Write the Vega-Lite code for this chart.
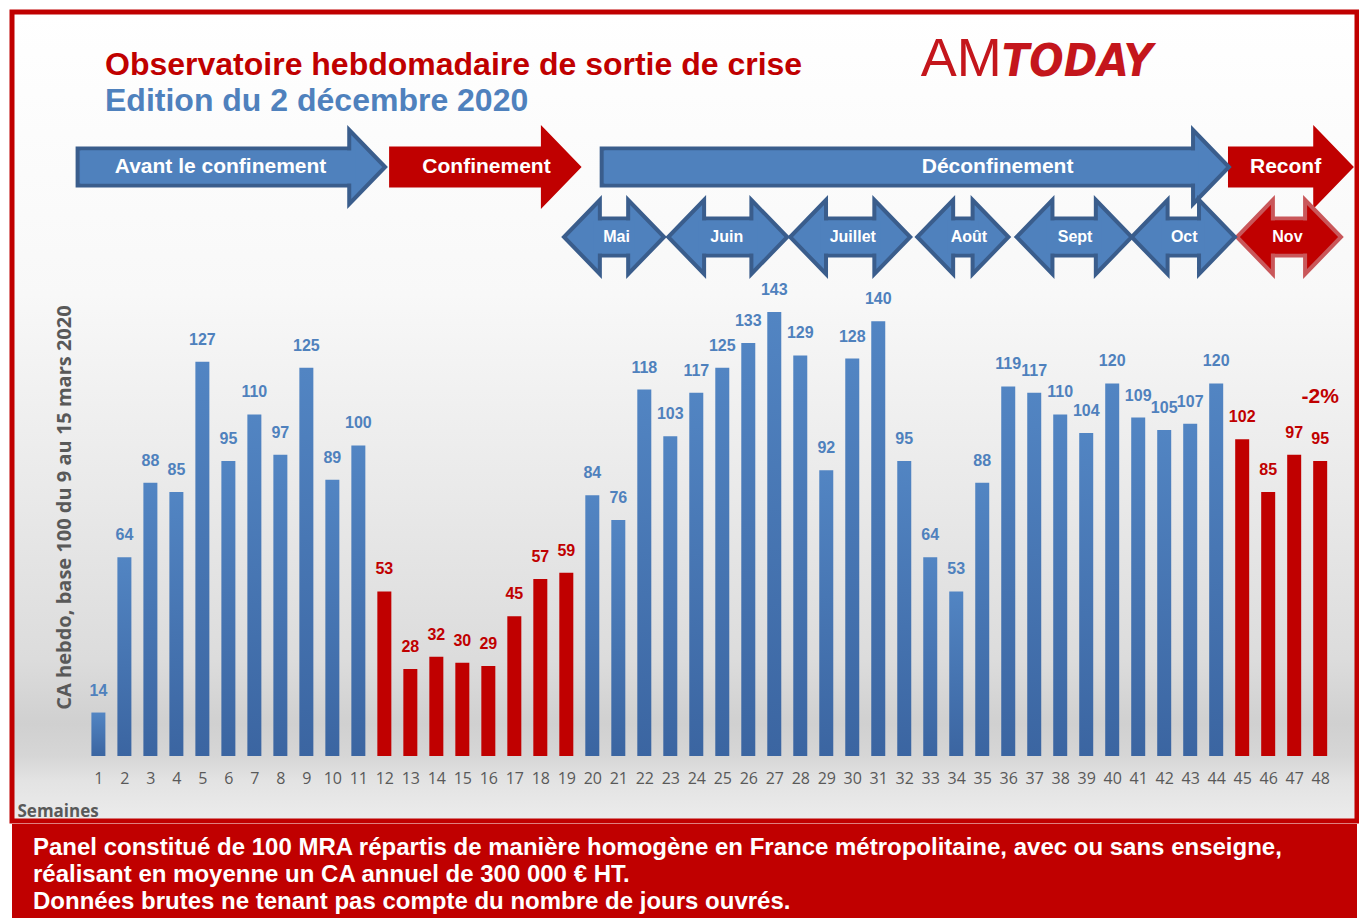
{
  "$schema": "https://vega.github.io/schema/vega-lite/v6.json",
  "background": "white",
  "padding": {"left": 9, "top": 9, "right": 0, "bottom": 0},
  "spacing": 0,
  "config": {
    "font": "Liberation Sans",
    "axis": {"labelOverlap": false},
    "axisX": {
      "labelFont": "Open Sans", "labelFontSize": 16, "labelColor": "#595959", "labelPadding": 2,
      "labelFlush": false, "labelOverlap": false, "labelSeparation": 0,
      "domain": false, "ticks": false, "grid": false,
      "titleFont": "Open Sans", "titleFontSize": 17, "titleFontWeight": "bold", "titleColor": "#595959"
    }
  },
  "datasets": {
    "semaines": [
      {"semaine": 1, "ca": 14, "statut": "Ouvert"},
      {"semaine": 2, "ca": 64, "statut": "Ouvert"},
      {"semaine": 3, "ca": 88, "statut": "Ouvert"},
      {"semaine": 4, "ca": 85, "statut": "Ouvert"},
      {"semaine": 5, "ca": 127, "statut": "Ouvert"},
      {"semaine": 6, "ca": 95, "statut": "Ouvert"},
      {"semaine": 7, "ca": 110, "statut": "Ouvert"},
      {"semaine": 8, "ca": 97, "statut": "Ouvert"},
      {"semaine": 9, "ca": 125, "statut": "Ouvert"},
      {"semaine": 10, "ca": 89, "statut": "Ouvert"},
      {"semaine": 11, "ca": 100, "statut": "Ouvert"},
      {"semaine": 12, "ca": 53, "statut": "Confiné"},
      {"semaine": 13, "ca": 28, "statut": "Confiné"},
      {"semaine": 14, "ca": 32, "statut": "Confiné"},
      {"semaine": 15, "ca": 30, "statut": "Confiné"},
      {"semaine": 16, "ca": 29, "statut": "Confiné"},
      {"semaine": 17, "ca": 45, "statut": "Confiné"},
      {"semaine": 18, "ca": 57, "statut": "Confiné"},
      {"semaine": 19, "ca": 59, "statut": "Confiné"},
      {"semaine": 20, "ca": 84, "statut": "Ouvert"},
      {"semaine": 21, "ca": 76, "statut": "Ouvert"},
      {"semaine": 22, "ca": 118, "statut": "Ouvert"},
      {"semaine": 23, "ca": 103, "statut": "Ouvert"},
      {"semaine": 24, "ca": 117, "statut": "Ouvert"},
      {"semaine": 25, "ca": 125, "statut": "Ouvert"},
      {"semaine": 26, "ca": 133, "statut": "Ouvert"},
      {"semaine": 27, "ca": 143, "statut": "Ouvert"},
      {"semaine": 28, "ca": 129, "statut": "Ouvert"},
      {"semaine": 29, "ca": 92, "statut": "Ouvert"},
      {"semaine": 30, "ca": 128, "statut": "Ouvert"},
      {"semaine": 31, "ca": 140, "statut": "Ouvert"},
      {"semaine": 32, "ca": 95, "statut": "Ouvert"},
      {"semaine": 33, "ca": 64, "statut": "Ouvert"},
      {"semaine": 34, "ca": 53, "statut": "Ouvert"},
      {"semaine": 35, "ca": 88, "statut": "Ouvert"},
      {"semaine": 36, "ca": 119, "statut": "Ouvert"},
      {"semaine": 37, "ca": 117, "statut": "Ouvert"},
      {"semaine": 38, "ca": 110, "statut": "Ouvert"},
      {"semaine": 39, "ca": 104, "statut": "Ouvert"},
      {"semaine": 40, "ca": 120, "statut": "Ouvert"},
      {"semaine": 41, "ca": 109, "statut": "Ouvert"},
      {"semaine": 42, "ca": 105, "statut": "Ouvert"},
      {"semaine": 43, "ca": 107, "statut": "Ouvert"},
      {"semaine": 44, "ca": 120, "statut": "Ouvert"},
      {"semaine": 45, "ca": 102, "statut": "Confiné"},
      {"semaine": 46, "ca": 85, "statut": "Confiné"},
      {"semaine": 47, "ca": 97, "statut": "Confiné"},
      {"semaine": 48, "ca": 95, "statut": "Confiné", "evolution": "-2%"}
    ],
    "fleches": [
      {"libelle": "Avant le confinement", "niveau": "Phase", "debut": 0.2, "fin": 12.03, "centre": 5.7, "statut": "Ouvert"},
      {"libelle": "Confinement", "niveau": "Phase", "debut": 12.26, "fin": 19.48, "centre": 15.93, "statut": "Confiné"},
      {"libelle": "Déconfinement", "niveau": "Phase", "debut": 20.36, "fin": 44.49, "centre": 35.59, "statut": "Ouvert"},
      {"libelle": "Reconf", "niveau": "Phase", "debut": 44.53, "fin": 49.19, "centre": 46.67, "statut": "Confiné"},
      {"libelle": "Mai", "niveau": "Mois", "debut": 18.91, "fin": 22.76, "centre": 20.93, "statut": "Ouvert"},
      {"libelle": "Juin", "niveau": "Mois", "debut": 22.92, "fin": 27.5, "centre": 25.17, "statut": "Ouvert"},
      {"libelle": "Juillet", "niveau": "Mois", "debut": 27.61, "fin": 32.23, "centre": 30.02, "statut": "Ouvert"},
      {"libelle": "Août", "niveau": "Mois", "debut": 32.5, "fin": 36.01, "centre": 34.49, "statut": "Ouvert"},
      {"libelle": "Sept", "niveau": "Mois", "debut": 36.32, "fin": 40.75, "centre": 38.57, "statut": "Ouvert"},
      {"libelle": "Oct", "niveau": "Mois", "debut": 40.75, "fin": 44.72, "centre": 42.77, "statut": "Ouvert"},
      {"libelle": "Nov", "niveau": "Mois", "debut": 44.8, "fin": 48.8, "centre": 46.74, "statut": "Confiné"}
    ],
    "logo": [
      {"partie": "AM"},
      {"partie": "TODAY"}
    ]
  },
  "vconcat": [
    {
      "width": 1345,
      "height": 809,
      "view": {
        "fill": {"gradient": "linear", "x1": 0, "y1": 0, "x2": 0, "y2": 1, "stops": [
          {"offset": 0, "color": "#ffffff"},
          {"offset": 0.35, "color": "#f8f8f8"},
          {"offset": 0.6, "color": "#e9e9e9"},
          {"offset": 0.8, "color": "#dcdcdc"},
          {"offset": 0.88, "color": "#d0d0d0"},
          {"offset": 0.92, "color": "#d6d6d6"},
          {"offset": 0.95, "color": "#e3e3e3"},
          {"offset": 1, "color": "#ececec"}
        ]},
        "stroke": "#c00000",
        "strokeWidth": 5
      },
      "title": {
        "text": "Observatoire hebdomadaire de sortie de crise",
        "subtitle": "Edition du 2 décembre 2020",
        "anchor": "start",
        "frame": "group",
        "orient": "top",
        "dx": 93,
        "offset": -106,
        "font": "Liberation Sans",
        "fontSize": 32,
        "fontWeight": "bold",
        "color": "#c00000",
        "subtitleFont": "Liberation Sans",
        "subtitleFontSize": 32,
        "subtitleFontWeight": "bold",
        "subtitleColor": "#4f81bd",
        "subtitlePadding": 4
      },
      "resolve": {"scale": {"y": "independent"}, "axis": {"y": "independent"}},
      "layer": [
        {
          "data": {"name": "semaines"},
          "encoding": {
            "x": {"field": "semaine", "type": "quantitative",
              "scale": {"domain": [-2.131, 49.224], "nice": false, "zero": false},
              "axis": {"values": [1,2,3,4,5,6,7,8,9,10,11,12,13,14,15,16,17,18,19,20,21,22,23,24,25,26,27,28,29,30,31,32,33,34,35,36,37,38,39,40,41,42,43,44,45,46,47,48], "format": "d", "orient": "bottom", "offset": -53, "labelOverlap": false, "labelFlush": false, "title": "Semaines", "titleAnchor": "start", "titleAlign": "left", "titleX": 5, "titleY": 43, "titleBaseline": "middle"}},
            "y": {"field": "ca", "type": "quantitative",
              "scale": {"domain": [-20.93, 239.6], "nice": false, "zero": false},
              "axis": {
                "title": "CA hebdo,  base 100 du 9 au 15 mars 2020",
                "orient": "left", "offset": -70,
                "domain": false, "ticks": false, "labels": false, "grid": false,
                "titleFont": "Open Sans", "titleFontSize": 20, "titleFontWeight": "bold", "titleColor": "#595959",
                "titlePadding": 8, "titleY": 495
              }}
          },
          "layer": [
            {
              "mark": {"type": "text", "dy": -22, "baseline": "middle", "font": "Liberation Sans", "fontSize": 16, "fontWeight": "bold"},
              "encoding": {
                "text": {"field": "ca", "type": "quantitative"},
                "color": {"condition": {"test": "datum.statut === 'Confiné'", "value": "#c00000"}, "value": "#4f81bd"}
              }
            },
            {
              "transform": [{"filter": "datum.statut === 'Ouvert'"}],
              "mark": {"type": "bar", "width": 14, "color": {"gradient": "linear", "x1": 0, "y1": 0, "x2": 0, "y2": 1, "stops": [{"offset": 0, "color": "#5285c3"}, {"offset": 1, "color": "#3b65a1"}]}},
              "encoding": {"y2": {"datum": 0}}
            },
            {
              "transform": [{"filter": "datum.statut === 'Confiné'"}],
              "mark": {"type": "bar", "width": 14, "color": "#c00000"},
              "encoding": {"y2": {"datum": 0}}
            },
            {
              "transform": [{"filter": "datum.evolution"}],
              "mark": {"type": "text", "dy": -64, "baseline": "middle", "font": "Liberation Sans", "fontSize": 21, "fontWeight": "bold", "color": "#c00000"},
              "encoding": {"text": {"field": "evolution"}}
            }
          ]
        },
        {
          "data": {"name": "fleches"},
          "encoding": {
            "x": {"field": "debut", "type": "quantitative", "scale": {"domain": [-2.131, 49.224], "nice": false, "zero": false},
              "axis": {"values": [1,2,3,4,5,6,7,8,9,10,11,12,13,14,15,16,17,18,19,20,21,22,23,24,25,26,27,28,29,30,31,32,33,34,35,36,37,38,39,40,41,42,43,44,45,46,47,48], "format": "d", "orient": "bottom", "offset": -53, "labelOverlap": false, "labelFlush": false, "title": "Semaines", "titleAnchor": "start", "titleAlign": "left", "titleX": 5, "titleY": 43, "titleBaseline": "middle"}},
            "y": {"field": "niveau", "type": "nominal", "axis": null, "scale": {"type": "band", "domain": ["Logo", "Phase", "Mois"], "range": [50, 260], "paddingInner": 0, "paddingOuter": 0}}
          },
          "layer": [
            {
              "transform": [{"filter": "datum.niveau === 'Phase'"}],
              "mark": {"type": "bar", "height": 37, "x2Offset": -20, "strokeWidth": 4},
              "encoding": {
                "x2": {"field": "fin"},
                "fill": {"condition": {"test": "datum.statut === 'Confiné'", "value": "#c00000"}, "value": "#4f81bd"},
                "stroke": {"condition": {"test": "datum.statut === 'Confiné'", "value": "#c00000"}, "value": "#3a5d8c"}
              }
            },
            {
              "transform": [{"filter": "datum.niveau === 'Phase'"}],
              "mark": {"type": "point", "shape": "M -0.97 -1 L 0 0 L -0.97 1 Z", "size": 5476, "filled": true, "opacity": 1, "strokeWidth": 4},
              "encoding": {
                "x": {"field": "fin", "type": "quantitative"},
                "fill": {"condition": {"test": "datum.statut === 'Confiné'", "value": "#c00000"}, "value": "#4f81bd"},
                "stroke": {"condition": {"test": "datum.statut === 'Confiné'", "value": "#c00000"}, "value": "#3a5d8c"}
              }
            },
            {
              "transform": [{"filter": "datum.niveau === 'Phase'"}],
              "mark": {"type": "bar", "height": 33, "xOffset": 3, "x2Offset": -30, "strokeWidth": 0},
              "encoding": {
                "x2": {"field": "fin"},
                "fill": {"condition": {"test": "datum.statut === 'Confiné'", "value": "#c00000"}, "value": "#4f81bd"}
              }
            },
            {
              "transform": [{"filter": "datum.niveau === 'Phase'"}],
              "mark": {"type": "text", "font": "Liberation Sans", "fontSize": 21, "fontWeight": "bold", "color": "white", "baseline": "middle"},
              "encoding": {
                "x": {"field": "centre", "type": "quantitative"},
                "text": {"field": "libelle"}
              }
            },
            {
              "transform": [{"filter": "datum.niveau === 'Mois'"}],
              "mark": {"type": "bar", "height": 37, "xOffset": 20, "x2Offset": -20, "strokeWidth": 4},
              "encoding": {
                "x2": {"field": "fin"},
                "fill": {"condition": {"test": "datum.statut === 'Confiné'", "value": "#c00000"}, "value": "#4f81bd"},
                "stroke": {"condition": {"test": "datum.statut === 'Confiné'", "value": "#c9575a"}, "value": "#3a5d8c"}
              }
            },
            {
              "transform": [{"filter": "datum.niveau === 'Mois'"}],
              "mark": {"type": "point", "shape": "M 0.97 -1 L 0 0 L 0.97 1 Z", "size": 5476, "filled": true, "opacity": 1, "strokeWidth": 4},
              "encoding": {
                "fill": {"condition": {"test": "datum.statut === 'Confiné'", "value": "#c00000"}, "value": "#4f81bd"},
                "stroke": {"condition": {"test": "datum.statut === 'Confiné'", "value": "#c9575a"}, "value": "#3a5d8c"}
              }
            },
            {
              "transform": [{"filter": "datum.niveau === 'Mois'"}],
              "mark": {"type": "point", "shape": "M -0.97 -1 L 0 0 L -0.97 1 Z", "size": 5476, "filled": true, "opacity": 1, "strokeWidth": 4},
              "encoding": {
                "x": {"field": "fin", "type": "quantitative"},
                "fill": {"condition": {"test": "datum.statut === 'Confiné'", "value": "#c00000"}, "value": "#4f81bd"},
                "stroke": {"condition": {"test": "datum.statut === 'Confiné'", "value": "#c9575a"}, "value": "#3a5d8c"}
              }
            },
            {
              "transform": [{"filter": "datum.niveau === 'Mois'"}],
              "mark": {"type": "bar", "height": 33, "xOffset": 30, "x2Offset": -30, "strokeWidth": 0},
              "encoding": {
                "x2": {"field": "fin"},
                "fill": {"condition": {"test": "datum.statut === 'Confiné'", "value": "#c00000"}, "value": "#4f81bd"}
              }
            },
            {
              "transform": [{"filter": "datum.niveau === 'Mois'"}],
              "mark": {"type": "text", "font": "Liberation Sans", "fontSize": 16, "fontWeight": "bold", "color": "white", "baseline": "middle"},
              "encoding": {
                "x": {"field": "centre", "type": "quantitative"},
                "text": {"field": "libelle"}
              }
            }
          ]
        },
        {
          "data": {"name": "logo"},
          "encoding": {
            "x": {"datum": 35.75, "type": "quantitative", "scale": {"domain": [-2.131, 49.224], "nice": false, "zero": false},
              "axis": {"values": [1,2,3,4,5,6,7,8,9,10,11,12,13,14,15,16,17,18,19,20,21,22,23,24,25,26,27,28,29,30,31,32,33,34,35,36,37,38,39,40,41,42,43,44,45,46,47,48], "format": "d", "orient": "bottom", "offset": -53, "labelOverlap": false, "labelFlush": false, "title": "Semaines", "titleAnchor": "start", "titleAlign": "left", "titleX": 5, "titleY": 43, "titleBaseline": "middle"}},
            "y": {"datum": "Logo", "type": "nominal", "axis": null, "scale": {"type": "band", "domain": ["Logo", "Phase", "Mois"], "range": [50, 260], "paddingInner": 0, "paddingOuter": 0}},
            "text": {"field": "partie"}
          },
          "layer": [
            {
              "transform": [{"filter": "datum.partie === 'AM'"}],
              "mark": {"type": "text", "align": "right", "baseline": "alphabetic", "dy": -21, "font": "Liberation Sans", "fontSize": 54, "color": "#c4161c"}
            },
            {
              "transform": [{"filter": "datum.partie === 'TODAY'"}],
              "mark": {"type": "text", "align": "left", "baseline": "alphabetic", "dy": -21, "font": "DejaVu Sans Condensed, Liberation Sans, sans-serif", "fontSize": 45, "fontWeight": "bold", "fontStyle": "italic", "color": "#c4161c"}
            }
          ]
        }
      ]
    },
    {
      "width": 1345,
      "height": 95,
      "view": {"fill": "#c00000", "stroke": null},
      "data": {"values": [{}]},
      "mark": {"type": "text"},
      "encoding": {},
      "title": {
        "text": [
          "Panel constitué de 100 MRA répartis de manière homogène en France métropolitaine, avec ou sans enseigne,",
          "réalisant en moyenne un CA annuel de 300 000 € HT.",
          "Données brutes ne tenant pas compte du nombre de jours ouvrés."
        ],
        "anchor": "start",
        "frame": "group",
        "orient": "top",
        "dx": 21,
        "offset": -90,
        "color": "white",
        "font": "Liberation Sans",
        "fontSize": 24,
        "fontWeight": "bold",
        "lineHeight": 27
      }
    }
  ]
}
